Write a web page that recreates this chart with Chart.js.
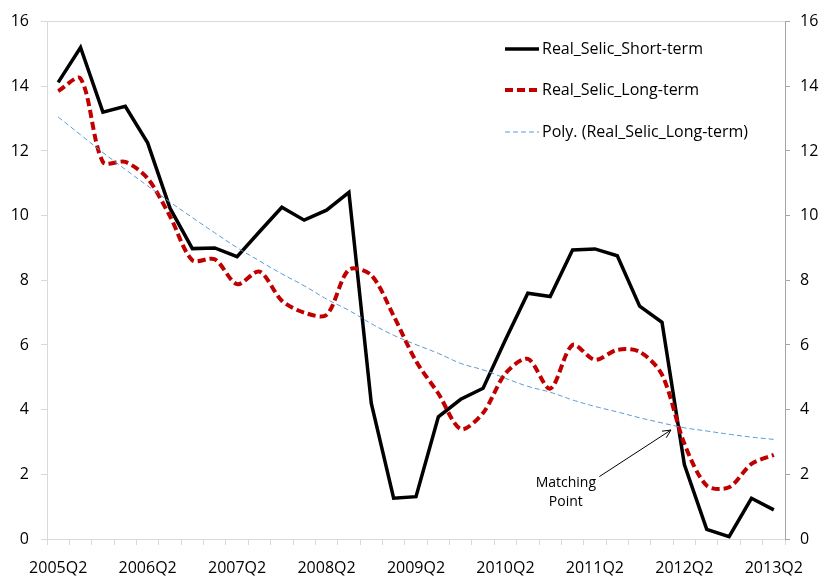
<!DOCTYPE html>
<html>
<head>
<meta charset="utf-8">
<script src="https://cdn.jsdelivr.net/npm/chart.js@4.4.1/dist/chart.umd.min.js"></script>
<style>
  html, body { margin: 0; padding: 0; background: #fff; }
</style>
</head>
<body>
<canvas id="selicChart" width="823" height="576"></canvas>
<script>
const quarters = [
  "2005Q2", "2005Q3", "2005Q4", "2006Q1",
  "2006Q2", "2006Q3", "2006Q4", "2007Q1",
  "2007Q2", "2007Q3", "2007Q4", "2008Q1",
  "2008Q2", "2008Q3", "2008Q4", "2009Q1",
  "2009Q2", "2009Q3", "2009Q4", "2010Q1",
  "2010Q2", "2010Q3", "2010Q4", "2011Q1",
  "2011Q2", "2011Q3", "2011Q4", "2012Q1",
  "2012Q2", "2012Q3", "2012Q4", "2013Q1",
  "2013Q2",
];

const shortTerm = [
  14.12, 15.2, 13.2, 13.38, 12.25, 10.23, 8.98, 9.0, 8.73, 9.5, 10.26,
  9.86, 10.17, 10.72, 4.2, 1.26, 1.31, 3.78, 4.32, 4.66, 6.16, 7.6, 7.5,
  8.94, 8.97, 8.76, 7.2, 6.7, 2.3, 0.3, 0.07, 1.26, 0.9,
];

const longTerm = [
  13.85, 14.24, 11.66, 11.66, 11.15, 9.98, 8.62, 8.65, 7.88, 8.27, 7.37,
  7.0, 6.93, 8.33, 8.16, 6.9, 5.5, 4.5, 3.4, 3.9, 5.12, 5.57, 4.65, 6.0,
  5.54, 5.85, 5.79, 5.08, 2.95, 1.65, 1.6, 2.32, 2.6,
];

// Excel polynomial trendline
const longTrend = [
  13.05, 12.5, 11.95, 11.43, 10.92, 10.42, 9.94, 9.47, 9.01, 8.6, 8.2, 7.83,
  7.42, 7.07, 6.66, 6.3, 6.01, 5.74, 5.43, 5.23, 4.97, 4.72, 4.54, 4.3,
  4.1, 3.93, 3.75, 3.59, 3.44, 3.34, 3.24, 3.15, 3.08,
];

const yTicks = [0, 2, 4, 6, 8, 10, 12, 14, 16];

const legendNames = [
  "Real_Selic_Short-term",
  "Real_Selic_Long-term",
  "Poly. (Real_Selic_Long-term)",
];

// annotation: [category index, value]
const matchTip = [27.4, 3.37];
const matchTail = [24.2, 1.93];
const matchLabel = [22.7, 1.74];

const FONT = "'Segoe UI', 'Open Sans', sans-serif";

const overlayPlugin = {
  id: "overlay",
  afterDatasetsDraw(chart) {
    const ctx = chart.ctx;
    const xs = chart.scales.x;
    const ys = chart.scales.y;
    ctx.save();

    // legend
    const rows = [49, 90, 132];
    const styles = [
      { color: "#000000", width: 3.5, dash: [] },
      { color: "#c00000", width: 4, dash: [8, 4] },
      { color: "#5b9bd5", width: 1, dash: [5, 3] },
    ];
    ctx.font = "16px " + FONT;
    ctx.textBaseline = "middle";
    ctx.textAlign = "left";
    rows.forEach((ry, i) => {
      ctx.beginPath();
      ctx.strokeStyle = styles[i].color;
      ctx.lineWidth = styles[i].width;
      ctx.setLineDash(styles[i].dash);
      ctx.moveTo(505, ry);
      ctx.lineTo(539, ry);
      ctx.stroke();
      ctx.fillStyle = "#000";
      ctx.fillText(legendNames[i], 542, ry);
    });
    ctx.setLineDash([]);

    // matching point arrow
    const tx = xs.getPixelForValue(matchTip[0]);
    const ty = ys.getPixelForValue(matchTip[1]);
    const fx = xs.getPixelForValue(matchTail[0]);
    const fy = ys.getPixelForValue(matchTail[1]);
    ctx.beginPath();
    ctx.strokeStyle = "#000";
    ctx.lineWidth = 1;
    ctx.moveTo(fx, fy);
    ctx.lineTo(tx, ty);
    const ang = Math.atan2(ty - fy, tx - fx);
    ctx.moveTo(tx - 9 * Math.cos(ang - 0.45), ty - 9 * Math.sin(ang - 0.45));
    ctx.lineTo(tx, ty);
    ctx.lineTo(tx - 9 * Math.cos(ang + 0.45), ty - 9 * Math.sin(ang + 0.45));
    ctx.stroke();

    const lx = xs.getPixelForValue(matchLabel[0]);
    const ly = ys.getPixelForValue(matchLabel[1]);
    ctx.font = "14px " + FONT;
    ctx.textAlign = "center";
    ctx.fillStyle = "#000";
    ctx.fillText("Matching", lx, ly);
    ctx.fillText("Point", lx, ly + 19);

    ctx.restore();
  },
};

function initChart() {
  const canvas = document.getElementById("selicChart");
  if (!canvas || typeof Chart === "undefined") return;

  new Chart(canvas, {
    type: "line",
    data: {
      labels: quarters,
      datasets: [
        {
          label: legendNames[0],
          data: shortTerm,
          borderColor: "#000000",
          borderWidth: 3.5,
          tension: 0,
          pointRadius: 0,
          order: 3,
        },
        {
          label: legendNames[1],
          data: longTerm,
          borderColor: "#c00000",
          borderWidth: 4,
          borderDash: [8, 4],
          tension: 0.3,
          pointRadius: 0,
          order: 2,
        },
        {
          label: legendNames[2],
          data: longTrend,
          borderColor: "#5b9bd5",
          borderWidth: 1,
          borderDash: [5, 3],
          tension: 0.4,
          pointRadius: 0,
          order: 1,
        },
      ],
    },
    options: {
      responsive: false,
      animation: false,
      layout: { padding: { top: 16, left: 0, right: 0, bottom: 0 } },
      plugins: {
        legend: { display: false },
        tooltip: { enabled: false },
      },
      scales: {
        x: {
          offset: true,
          grid: {
            offset: true,
            drawOnChartArea: false,
            tickLength: 6,
            color: "#d9d9d9",
          },
          border: { color: "#d9d9d9", width: 1 },
          ticks: {
            autoSkip: false,
            maxRotation: 0,
            padding: 14,
            color: "#000",
            font: { size: 16, family: FONT },
            callback: function (val, i) {
              return i % 4 === 0 ? quarters[i] : "";
            },
          },
          afterFit(scale) {
            scale.height = 37;
          },
        },
        y: {
          position: "left",
          min: 0,
          max: 16,
          afterBuildTicks(scale) {
            scale.ticks = yTicks.map((v) => ({ value: v }));
          },
          grid: {
            tickLength: 6,
            color: (c) => (c.tick && c.tick.value === 16 ? "#d9d9d9" : "rgba(0,0,0,0)"),
            tickColor: "#d9d9d9",
          },
          border: { color: "#d9d9d9", width: 1 },
          ticks: {
            padding: 12,
            color: "#000",
            font: { size: 16, family: FONT },
          },
          afterFit(scale) {
            scale.width = 47;
          },
        },
        y2: {
          position: "right",
          min: 0,
          max: 16,
          afterBuildTicks(scale) {
            scale.ticks = yTicks.map((v) => ({ value: v }));
          },
          grid: {
            drawOnChartArea: false,
            tickLength: 5,
            color: "#a6a6a6",
          },
          border: { color: "#a6a6a6", width: 1 },
          ticks: {
            padding: 10,
            color: "#000",
            font: { size: 16, family: FONT },
          },
          afterFit(scale) {
            scale.width = 38;
          },
        },
      },
    },
    plugins: [overlayPlugin],
  });
}

initChart();
</script>
</body>
</html>
